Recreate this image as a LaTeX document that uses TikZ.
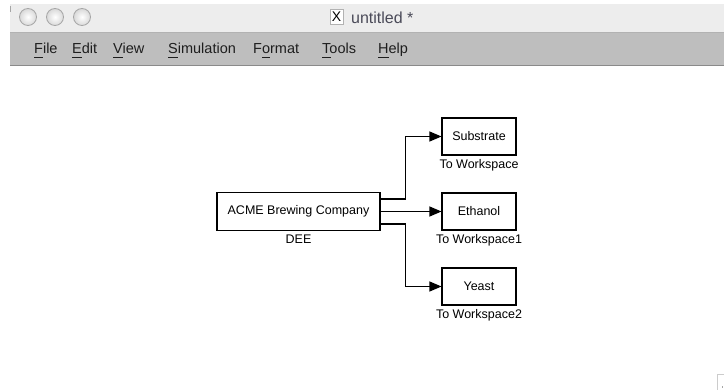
\documentclass[tikz,border=0pt]{standalone}
\usepackage{fontspec}
\setmainfont{Liberation Sans}
\usetikzlibrary{arrows.meta}
\definecolor{titlebg}{HTML}{EDEDED}
\definecolor{menubg}{HTML}{BEBEBE}
\definecolor{menuline}{HTML}{8A8A8A}
\definecolor{titletext}{HTML}{4A4A58}
\definecolor{menutext}{HTML}{1E1E1E}
\newcommand\myul[1]{\setbox0\hbox{#1}\rlap{\rule[-4.5pt]{\wd0}{1.1pt}}#1}
\tikzset{
  blk/.style={draw=black, line width=1.1pt, fill=white, minimum width=74pt, minimum height=37pt, inner sep=0pt, font=\fontsize{12.5}{14}\selectfont},
  lbl/.style={inner sep=0pt, font=\fontsize{12.5}{14}\selectfont},
  conn/.style={draw=black, line width=1.1pt, -{Triangle[length=12pt,width=10pt]}},
  menuitem/.style={anchor=base west, inner sep=0pt, text=menutext, font=\fontsize{14.5}{16}\selectfont},
  winbtn/.style={circle, draw=gray!70, line width=0.8pt, inner color=white, outer color=gray!30, minimum size=17pt, inner sep=0pt}
}
\begin{document}
\begin{tikzpicture}[x=1pt,y=-1pt]
\useasboundingbox (0,0) rectangle (724,390);
\fill[white] (0,0) rectangle (724,390);
% title bar
\fill[titlebg] (10,4) rectangle (724,32);
\draw[gray!70, line width=1.2pt] (10.5,6) -- (10.5,12);
\node[winbtn] (b1) at (28,17) {};
\node[winbtn] (b2) at (55,17) {};
\node[winbtn] (b3) at (82,17) {};
\node[draw=gray!60, line width=0.6pt, fill=white, minimum width=13pt, minimum height=15pt, inner sep=0pt, font=\fontfamily{lmr}\fontsize{14}{14}\selectfont] (xicon) at (336.5,17) {\textrm{X}};
\node[anchor=base west, inner sep=0pt, text=titletext, font=\fontsize{16}{18}\selectfont] (title) at (351,23.5) {untitled *};
% menu bar
\fill[menubg] (10,32) rectangle (724,66);
\draw[gray!60, line width=0.8pt] (10,32.4) -- (724,32.4);
\draw[menuline, line width=1.2pt] (10,65.5) -- (724,65.5);
\node[menuitem] (mfile) at (34,54) {\myul{F}ile};
\node[menuitem] (medit) at (72,54) {\myul{E}dit};
\node[menuitem] (mview) at (113,54) {\myul{V}iew};
\node[menuitem] (msim) at (168,54) {\myul{S}imulation};
\node[menuitem] (mfmt) at (253,54) {F\myul{o}rmat};
\node[menuitem] (mtools) at (322,54) {\myul{T}ools};
\node[menuitem] (mhelp) at (378,54) {\myul{H}elp};
% blocks
\node[blk, minimum width=163pt, minimum height=38pt] (acme) at (298.5,211.5) {ACME Brewing Company};
\node[lbl, anchor=north] (acmelbl) at (298.5,235) {DEE};
\node[blk] (sub) at (479,136.5) {Substrate};
\node[lbl, anchor=north] (sublbl) at (479,159.5) {To Workspace};
\node[blk] (eth) at (479,211.5) {Ethanol};
\node[lbl, anchor=north] (ethlbl) at (479,234.5) {To Workspace1};
\node[blk] (yst) at (479,286.5) {Yeast};
\node[lbl, anchor=north] (ystlbl) at (479,309.5) {To Workspace2};
% connectors
\draw[conn] ([yshift=12.5pt]acme.east) -- ++(25,0) |- (sub.west);
\draw[conn] (acme.east) -- (eth.west);
\draw[conn] ([yshift=-12.5pt]acme.east) -- ++(25,0) |- (yst.west);
% resize grip
\draw[gray!40, line width=0.8pt] (717,390) -- (717,374) -- (724,374);
\fill[gray!70] (721.5,386.5) rectangle (723,388);
\end{tikzpicture}
\end{document}
